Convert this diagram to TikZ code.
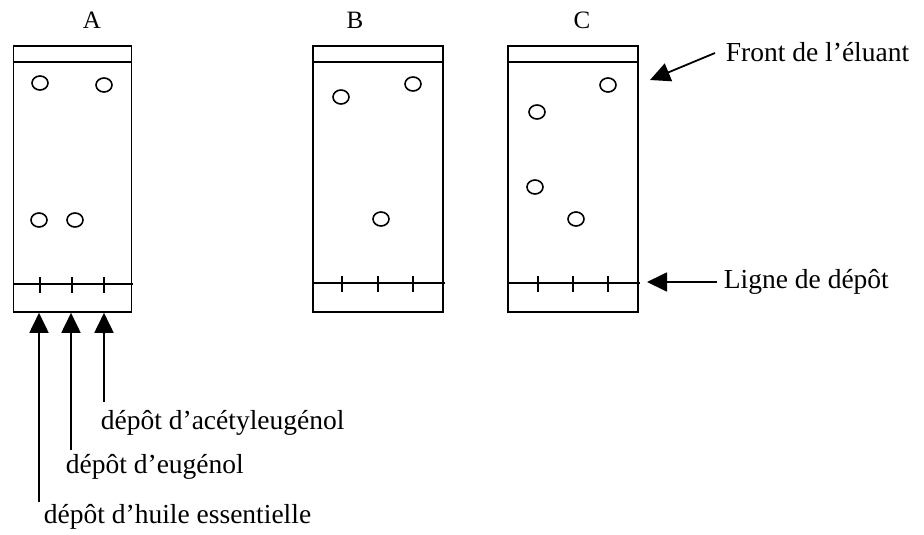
\documentclass[tikz,border=0pt]{standalone}
\usepackage{fontspec}
\setmainfont{Liberation Serif}
\usetikzlibrary{arrows.meta,shapes.geometric}

\begin{document}
\begin{tikzpicture}[x=1pt,y=-1pt,line width=1.8pt,
  plate/.style={draw,rectangle,inner sep=0pt,minimum height=266pt,anchor=north west},
  spot/.style={draw,ellipse,inner sep=0pt,minimum width=16pt,minimum height=14pt,line width=1.6pt},
  lbl/.style={inner sep=0pt,anchor=west,font=\fontsize{27.5}{30}\selectfont},
  title/.style={inner sep=0pt,font=\fontsize{25}{28}\selectfont},
  pointer/.style={-{Triangle[length=20pt,width=19pt]},line width=1.8pt}]
\useasboundingbox (0,0) rectangle (924,535);

% plates
\node[plate,minimum width=118pt] (A) at (12.5,45) {};
\node[plate,minimum width=130pt] (B) at (312,45) {};
\node[plate,minimum width=130pt] (C) at (507,45) {};

\node[title] (tA) at (92,20) {A};
\node[title] (tB) at (355,20) {B};
\node[title] (tC) at (582,20) {C};

% solvent fronts
\draw (12.5,62) -- (130.5,62);
\draw (312,62) -- (442,62);
\draw (507,62) -- (637,62);

% baselines with spotting marks
\draw (14,284) -- (133,284);
\draw (314,283) -- (445,283);
\draw (509,283) -- (640,283);
\foreach \x in {40,72,104} \draw (\x,277) -- (\x,293);
\foreach \x in {342,378,413} \draw (\x,276) -- (\x,292);
\foreach \x in {538,573,608} \draw (\x,276) -- (\x,292);

% spots
\node[spot] (a1) at (40,83) {};
\node[spot] (a2) at (104,85) {};
\node[spot] (a3) at (39,220) {};
\node[spot] (a4) at (75,220) {};
\node[spot] (b1) at (341,97) {};
\node[spot] (b2) at (413,84) {};
\node[spot] (b3) at (381,219) {};
\node[spot] (c1) at (608,85) {};
\node[spot] (c2) at (537,112) {};
\node[spot] (c3) at (535,187) {};
\node[spot] (c4) at (576,219) {};

% right-hand labels
\node[lbl] (front) at (725,52) {Front de l’éluant};
\node[lbl] (ligne) at (723,282) {Ligne de dépôt};
\coordinate (frontTip) at (650,80);
\coordinate (ligneTip) at (647,282);
\draw[pointer] (front.west) ++(-10,1) coordinate (frontTail) -- (frontTip);
\draw[pointer] (ligne.west) ++(-6,0) coordinate (ligneTail) -- (ligneTip);

% bottom labels
\node[lbl] (acet) at (100,423) {dépôt d’acétyleugénol};
\node[lbl] (eug) at (65,467) {dépôt d’eugénol};
\node[lbl] (huile) at (43,517) {dépôt d’huile essentielle};
\coordinate (t1) at (39,502);
\coordinate (t2) at (71,450);
\coordinate (t3) at (104,402);
\draw[pointer] (t1) -- (t1 |- A.south);
\draw[pointer] (t2) -- (t2 |- A.south);
\draw[pointer] (t3) -- (t3 |- A.south);
\end{tikzpicture}
\end{document}
